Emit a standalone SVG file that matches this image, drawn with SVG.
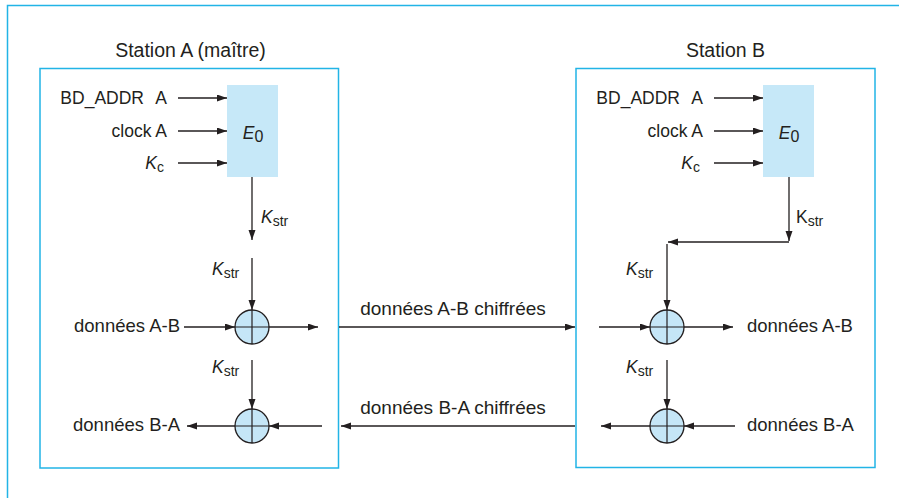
<svg xmlns="http://www.w3.org/2000/svg" width="899" height="498" viewBox="0 0 899 498">
<defs>
<marker id="ah" markerUnits="userSpaceOnUse" markerWidth="11" markerHeight="8" refX="10" refY="3.5" orient="auto">
<path d="M0,0 L10,3.5 L0,7 z" fill="#231f20"/>
</marker>
<style>
text{font-family:"Liberation Sans",Arial,sans-serif;font-size:17.5px;fill:#231f20}
.title{font-size:19.5px}
.it{font-style:italic}
.sub{font-size:14px}
.data{font-size:18.5px}
.mid{font-size:19px}
.station{fill:none;stroke:#22b4e6;stroke-width:1.5}
.e0{fill:#c6e8f8}
.xor circle{fill:#c5e6f7;stroke:#231f20;stroke-width:1.3}
.xor line{stroke:#231f20;stroke-width:1.2}
#connectors line,#connectors path{stroke:#231f20;stroke-width:1.3;fill:none}
.arr{marker-end:url(#ah)}
</style>
</defs>
<rect width="899" height="498" fill="#ffffff"/>
<path d="M7.5,498 V5.5 H899" fill="none" stroke="#22b4e6" stroke-width="1.5"/>

<g id="stationA">
<text class="title" x="190.5" y="56.5" text-anchor="middle">Station A (maître)</text>
<rect class="station" x="40" y="68.5" width="298.5" height="399.5"/>
</g>
<g id="stationB">
<text class="title" x="725.5" y="56.5" text-anchor="middle">Station B</text>
<rect class="station" x="576" y="68.5" width="299" height="399"/>
</g>

<g id="E0A">
<rect class="e0" x="227" y="85" width="51" height="92"/>
<text x="253" y="139" text-anchor="middle" font-size="19"><tspan class="it">E</tspan><tspan font-size="16" dy="3">0</tspan></text>
</g>
<g id="E0B">
<rect class="e0" x="763" y="85" width="51" height="92"/>
<text x="789" y="139" text-anchor="middle" font-size="19"><tspan class="it">E</tspan><tspan font-size="16" dy="3">0</tspan></text>
</g>

<g id="inputsA">
<text x="144" y="104" text-anchor="end">BD_ADDR</text>
<text x="167" y="104" text-anchor="end">A</text>
<text x="167" y="137" text-anchor="end" font-size="18">clock A</text>
<text x="164" y="169" text-anchor="end"><tspan class="it">K</tspan><tspan class="sub" dy="3">c</tspan></text>
</g>
<g id="inputsB">
<text x="680" y="104" text-anchor="end">BD_ADDR</text>
<text x="703" y="104" text-anchor="end">A</text>
<text x="703" y="137" text-anchor="end" font-size="18">clock A</text>
<text x="700" y="169" text-anchor="end"><tspan class="it">K</tspan><tspan class="sub" dy="3">c</tspan></text>
</g>

<g id="kstrLabels">
<text x="261" y="223"><tspan class="it">K</tspan><tspan class="sub" dy="3">str</tspan></text>
<text x="212" y="275"><tspan class="it">K</tspan><tspan class="sub" dy="3">str</tspan></text>
<text x="212" y="373"><tspan class="it">K</tspan><tspan class="sub" dy="3">str</tspan></text>
<text x="796" y="223">K<tspan class="sub" dy="3">str</tspan></text>
<text x="626" y="275"><tspan class="it">K</tspan><tspan class="sub" dy="3">str</tspan></text>
<text x="626" y="373"><tspan class="it">K</tspan><tspan class="sub" dy="3">str</tspan></text>
</g>

<g id="xorA1" class="xor">
<circle cx="252" cy="327" r="17"/>
<line x1="252" y1="310" x2="252" y2="344"/>
<line x1="235" y1="327" x2="269" y2="327"/>
</g>
<g id="xorA2" class="xor">
<circle cx="252" cy="426" r="17"/>
<line x1="252" y1="409" x2="252" y2="443"/>
<line x1="235" y1="426" x2="269" y2="426"/>
</g>
<g id="xorB1" class="xor">
<circle cx="667" cy="327" r="17"/>
<line x1="667" y1="310" x2="667" y2="344"/>
<line x1="650" y1="327" x2="684" y2="327"/>
</g>
<g id="xorB2" class="xor">
<circle cx="667" cy="426" r="17"/>
<line x1="667" y1="409" x2="667" y2="443"/>
<line x1="650" y1="426" x2="684" y2="426"/>
</g>

<g id="dataLabels">
<text class="data" x="180" y="332" text-anchor="end">données A-B</text>
<text class="data" x="180" y="431" text-anchor="end">données B-A</text>
<text class="data" x="747" y="332">données A-B</text>
<text class="data" x="747" y="431">données B-A</text>
<text class="mid" x="453" y="315" text-anchor="middle">données A-B chiffrées</text>
<text class="mid" x="453" y="414" text-anchor="middle">données B-A chiffrées</text>
</g>

<g id="connectors">
<line class="arr" x1="178" y1="98" x2="227" y2="98"/>
<line class="arr" x1="178" y1="131" x2="227" y2="131"/>
<line class="arr" x1="178" y1="163" x2="227" y2="163"/>
<line class="arr" x1="252" y1="177" x2="252" y2="240"/>
<line class="arr" x1="252" y1="258" x2="252" y2="310"/>
<line class="arr" x1="184" y1="327" x2="235" y2="327"/>
<line class="arr" x1="269" y1="327" x2="318" y2="327"/>
<line class="arr" x1="339" y1="327" x2="575" y2="327"/>
<line class="arr" x1="252" y1="360" x2="252" y2="409"/>
<line class="arr" x1="235" y1="426" x2="187" y2="426"/>
<line class="arr" x1="322" y1="426" x2="269" y2="426"/>
<line class="arr" x1="575" y1="426" x2="341" y2="426"/>

<line class="arr" x1="714" y1="98" x2="763" y2="98"/>
<line class="arr" x1="714" y1="131" x2="763" y2="131"/>
<line class="arr" x1="714" y1="163" x2="763" y2="163"/>
<line class="arr" x1="789" y1="177" x2="789" y2="241"/>
<line class="arr" x1="789" y1="242" x2="668" y2="242"/>
<line class="arr" x1="667" y1="244" x2="667" y2="310"/>
<line class="arr" x1="599" y1="327" x2="650" y2="327"/>
<line class="arr" x1="684" y1="327" x2="733" y2="327"/>
<line class="arr" x1="667" y1="360" x2="667" y2="409"/>
<line class="arr" x1="650" y1="426" x2="601" y2="426"/>
<line class="arr" x1="735" y1="426" x2="684" y2="426"/>
</g>
</svg>
